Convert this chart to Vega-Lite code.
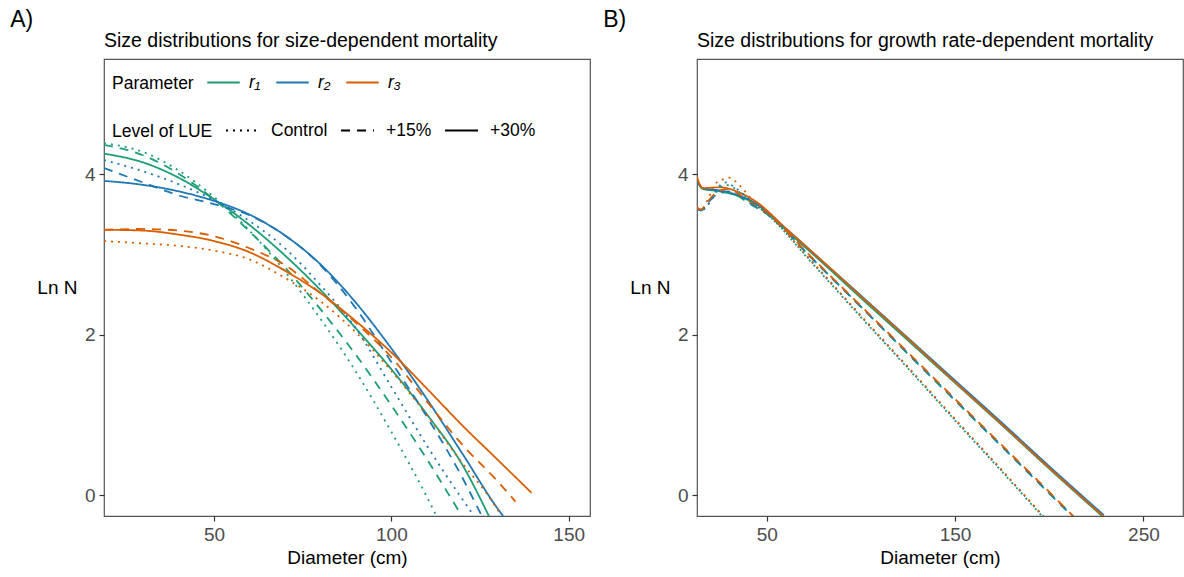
{
  "$schema": "https://vega.github.io/schema/vega-lite/v6.json",
  "background": "white",
  "padding": {"left": 10, "top": 8, "right": 1, "bottom": 4},
  "config": {
    "font": "Liberation Sans",
    "view": {"stroke": "#555555", "strokeWidth": 1.2},
    "axis": {"domain": false, "grid": false, "tickColor": "#333333", "tickSize": 5, "tickWidth": 1.2, "labelColor": "#4d4d4d", "labelFontSize": 19, "titleFontSize": 19, "titleFontWeight": "normal", "titleColor": "black", "labelPadding": 4, "titlePadding": 4},
    "legend": {"labelFontSize": 17.5, "titleFontSize": 17.5, "titleFontWeight": "normal", "titleColor": "black", "labelColor": "black"},
    "concat": {"spacing": 12}
  },
  "resolve": {"legend": {"color": "independent", "strokeDash": "independent"}},
  "datasets": {
    "A": [
      {"p": "r₁", "l": "+30%", "d": 19, "n": 4.26}, {"p": "r₁", "l": "+30%", "d": 30, "n": 4.15}, {"p": "r₁", "l": "+30%", "d": 40, "n": 3.96}, {"p": "r₁", "l": "+30%", "d": 50, "n": 3.69}, {"p": "r₁", "l": "+30%", "d": 60, "n": 3.37}, {"p": "r₁", "l": "+30%", "d": 70, "n": 2.99}, {"p": "r₁", "l": "+30%", "d": 80, "n": 2.56}, {"p": "r₁", "l": "+30%", "d": 90, "n": 2.08}, {"p": "r₁", "l": "+30%", "d": 100, "n": 1.57}, {"p": "r₁", "l": "+30%", "d": 110, "n": 1.01}, {"p": "r₁", "l": "+30%", "d": 120, "n": 0.38}, {"p": "r₁", "l": "+30%", "d": 127.5, "n": -0.26},
      {"p": "r₁", "l": "+15%", "d": 19, "n": 4.37}, {"p": "r₁", "l": "+15%", "d": 30, "n": 4.24}, {"p": "r₁", "l": "+15%", "d": 40, "n": 4.01}, {"p": "r₁", "l": "+15%", "d": 50, "n": 3.69}, {"p": "r₁", "l": "+15%", "d": 60, "n": 3.29}, {"p": "r₁", "l": "+15%", "d": 70, "n": 2.84}, {"p": "r₁", "l": "+15%", "d": 80, "n": 2.32}, {"p": "r₁", "l": "+15%", "d": 90, "n": 1.75}, {"p": "r₁", "l": "+15%", "d": 100, "n": 1.12}, {"p": "r₁", "l": "+15%", "d": 110, "n": 0.45}, {"p": "r₁", "l": "+15%", "d": 120, "n": -0.27},
      {"p": "r₁", "l": "Control", "d": 19, "n": 4.39}, {"p": "r₁", "l": "Control", "d": 30, "n": 4.28}, {"p": "r₁", "l": "Control", "d": 40, "n": 4.05}, {"p": "r₁", "l": "Control", "d": 50, "n": 3.72}, {"p": "r₁", "l": "Control", "d": 60, "n": 3.30}, {"p": "r₁", "l": "Control", "d": 70, "n": 2.79}, {"p": "r₁", "l": "Control", "d": 80, "n": 2.20}, {"p": "r₁", "l": "Control", "d": 90, "n": 1.54}, {"p": "r₁", "l": "Control", "d": 100, "n": 0.79}, {"p": "r₁", "l": "Control", "d": 110, "n": -0.02}, {"p": "r₁", "l": "Control", "d": 112.5, "n": -0.24},
      {"p": "r₂", "l": "+30%", "d": 19, "n": 3.92}, {"p": "r₂", "l": "+30%", "d": 30, "n": 3.87}, {"p": "r₂", "l": "+30%", "d": 40, "n": 3.79}, {"p": "r₂", "l": "+30%", "d": 50, "n": 3.67}, {"p": "r₂", "l": "+30%", "d": 60, "n": 3.50}, {"p": "r₂", "l": "+30%", "d": 70, "n": 3.24}, {"p": "r₂", "l": "+30%", "d": 80, "n": 2.88}, {"p": "r₂", "l": "+30%", "d": 90, "n": 2.40}, {"p": "r₂", "l": "+30%", "d": 100, "n": 1.83}, {"p": "r₂", "l": "+30%", "d": 110, "n": 1.20}, {"p": "r₂", "l": "+30%", "d": 120, "n": 0.52}, {"p": "r₂", "l": "+30%", "d": 130, "n": -0.17}, {"p": "r₂", "l": "+30%", "d": 131.5, "n": -0.26},
      {"p": "r₂", "l": "+15%", "d": 19, "n": 4.08}, {"p": "r₂", "l": "+15%", "d": 30, "n": 3.90}, {"p": "r₂", "l": "+15%", "d": 40, "n": 3.74}, {"p": "r₂", "l": "+15%", "d": 50, "n": 3.63}, {"p": "r₂", "l": "+15%", "d": 60, "n": 3.49}, {"p": "r₂", "l": "+15%", "d": 70, "n": 3.24}, {"p": "r₂", "l": "+15%", "d": 80, "n": 2.87}, {"p": "r₂", "l": "+15%", "d": 90, "n": 2.33}, {"p": "r₂", "l": "+15%", "d": 100, "n": 1.66}, {"p": "r₂", "l": "+15%", "d": 110, "n": 0.98}, {"p": "r₂", "l": "+15%", "d": 120, "n": 0.22}, {"p": "r₂", "l": "+15%", "d": 125.5, "n": -0.26},
      {"p": "r₂", "l": "Control", "d": 19, "n": 4.18}, {"p": "r₂", "l": "Control", "d": 30, "n": 4.04}, {"p": "r₂", "l": "Control", "d": 40, "n": 3.88}, {"p": "r₂", "l": "Control", "d": 50, "n": 3.68}, {"p": "r₂", "l": "Control", "d": 60, "n": 3.42}, {"p": "r₂", "l": "Control", "d": 70, "n": 3.08}, {"p": "r₂", "l": "Control", "d": 80, "n": 2.62}, {"p": "r₂", "l": "Control", "d": 90, "n": 2.08}, {"p": "r₂", "l": "Control", "d": 100, "n": 1.35}, {"p": "r₂", "l": "Control", "d": 110, "n": 0.62}, {"p": "r₂", "l": "Control", "d": 120, "n": -0.05}, {"p": "r₂", "l": "Control", "d": 123, "n": -0.24},
      {"p": "r₃", "l": "+30%", "d": 19, "n": 3.31}, {"p": "r₃", "l": "+30%", "d": 30, "n": 3.30}, {"p": "r₃", "l": "+30%", "d": 40, "n": 3.25}, {"p": "r₃", "l": "+30%", "d": 50, "n": 3.17}, {"p": "r₃", "l": "+30%", "d": 60, "n": 3.03}, {"p": "r₃", "l": "+30%", "d": 70, "n": 2.80}, {"p": "r₃", "l": "+30%", "d": 80, "n": 2.52}, {"p": "r₃", "l": "+30%", "d": 90, "n": 2.17}, {"p": "r₃", "l": "+30%", "d": 100, "n": 1.78}, {"p": "r₃", "l": "+30%", "d": 110, "n": 1.33}, {"p": "r₃", "l": "+30%", "d": 120, "n": 0.87}, {"p": "r₃", "l": "+30%", "d": 130, "n": 0.44}, {"p": "r₃", "l": "+30%", "d": 139.5, "n": 0.03},
      {"p": "r₃", "l": "+15%", "d": 19, "n": 3.31}, {"p": "r₃", "l": "+15%", "d": 30, "n": 3.32}, {"p": "r₃", "l": "+15%", "d": 40, "n": 3.30}, {"p": "r₃", "l": "+15%", "d": 50, "n": 3.23}, {"p": "r₃", "l": "+15%", "d": 60, "n": 3.08}, {"p": "r₃", "l": "+15%", "d": 70, "n": 2.87}, {"p": "r₃", "l": "+15%", "d": 80, "n": 2.52}, {"p": "r₃", "l": "+15%", "d": 90, "n": 2.15}, {"p": "r₃", "l": "+15%", "d": 100, "n": 1.72}, {"p": "r₃", "l": "+15%", "d": 110, "n": 1.17}, {"p": "r₃", "l": "+15%", "d": 120, "n": 0.63}, {"p": "r₃", "l": "+15%", "d": 130, "n": 0.17}, {"p": "r₃", "l": "+15%", "d": 135, "n": -0.08},
      {"p": "r₃", "l": "Control", "d": 19, "n": 3.17}, {"p": "r₃", "l": "Control", "d": 30, "n": 3.14}, {"p": "r₃", "l": "Control", "d": 40, "n": 3.11}, {"p": "r₃", "l": "Control", "d": 50, "n": 3.05}, {"p": "r₃", "l": "Control", "d": 60, "n": 2.94}, {"p": "r₃", "l": "Control", "d": 70, "n": 2.71}, {"p": "r₃", "l": "Control", "d": 80, "n": 2.42}, {"p": "r₃", "l": "Control", "d": 90, "n": 2.03}, {"p": "r₃", "l": "Control", "d": 100, "n": 1.55}, {"p": "r₃", "l": "Control", "d": 110, "n": 1.00}, {"p": "r₃", "l": "Control", "d": 120, "n": 0.40}, {"p": "r₃", "l": "Control", "d": 128, "n": -0.05}, {"p": "r₃", "l": "Control", "d": 130.5, "n": -0.22}
    ],
    "B": [
      {"p": "r₁", "l": "+30%", "d": 13, "n": 3.92}, {"p": "r₁", "l": "+30%", "d": 16, "n": 3.82}, {"p": "r₁", "l": "+30%", "d": 25, "n": 3.79}, {"p": "r₁", "l": "+30%", "d": 35, "n": 3.73}, {"p": "r₁", "l": "+30%", "d": 45, "n": 3.62}, {"p": "r₁", "l": "+30%", "d": 60, "n": 3.31}, {"p": "r₁", "l": "+30%", "d": 80, "n": 2.89}, {"p": "r₁", "l": "+30%", "d": 100, "n": 2.46}, {"p": "r₁", "l": "+30%", "d": 125, "n": 1.93}, {"p": "r₁", "l": "+30%", "d": 150, "n": 1.40}, {"p": "r₁", "l": "+30%", "d": 175, "n": 0.87}, {"p": "r₁", "l": "+30%", "d": 200, "n": 0.33}, {"p": "r₁", "l": "+30%", "d": 228.5, "n": -0.27},
      {"p": "r₂", "l": "+30%", "d": 13, "n": 3.93}, {"p": "r₂", "l": "+30%", "d": 16, "n": 3.83}, {"p": "r₂", "l": "+30%", "d": 25, "n": 3.80}, {"p": "r₂", "l": "+30%", "d": 35, "n": 3.74}, {"p": "r₂", "l": "+30%", "d": 45, "n": 3.63}, {"p": "r₂", "l": "+30%", "d": 60, "n": 3.33}, {"p": "r₂", "l": "+30%", "d": 80, "n": 2.91}, {"p": "r₂", "l": "+30%", "d": 100, "n": 2.49}, {"p": "r₂", "l": "+30%", "d": 125, "n": 1.96}, {"p": "r₂", "l": "+30%", "d": 150, "n": 1.43}, {"p": "r₂", "l": "+30%", "d": 175, "n": 0.90}, {"p": "r₂", "l": "+30%", "d": 200, "n": 0.36}, {"p": "r₂", "l": "+30%", "d": 229, "n": -0.25},
      {"p": "r₃", "l": "+30%", "d": 13, "n": 3.97}, {"p": "r₃", "l": "+30%", "d": 16, "n": 3.83}, {"p": "r₃", "l": "+30%", "d": 25, "n": 3.84}, {"p": "r₃", "l": "+30%", "d": 35, "n": 3.78}, {"p": "r₃", "l": "+30%", "d": 45, "n": 3.65}, {"p": "r₃", "l": "+30%", "d": 60, "n": 3.33}, {"p": "r₃", "l": "+30%", "d": 80, "n": 2.91}, {"p": "r₃", "l": "+30%", "d": 100, "n": 2.48}, {"p": "r₃", "l": "+30%", "d": 125, "n": 1.95}, {"p": "r₃", "l": "+30%", "d": 150, "n": 1.41}, {"p": "r₃", "l": "+30%", "d": 175, "n": 0.88}, {"p": "r₃", "l": "+30%", "d": 200, "n": 0.34}, {"p": "r₃", "l": "+30%", "d": 229, "n": -0.27},
      {"p": "r₁", "l": "+15%", "d": 13, "n": 3.58}, {"p": "r₁", "l": "+15%", "d": 15, "n": 3.56}, {"p": "r₁", "l": "+15%", "d": 20, "n": 3.68}, {"p": "r₁", "l": "+15%", "d": 25, "n": 3.77}, {"p": "r₁", "l": "+15%", "d": 30, "n": 3.78}, {"p": "r₁", "l": "+15%", "d": 35, "n": 3.73}, {"p": "r₁", "l": "+15%", "d": 40, "n": 3.65}, {"p": "r₁", "l": "+15%", "d": 50, "n": 3.51}, {"p": "r₁", "l": "+15%", "d": 75, "n": 2.93}, {"p": "r₁", "l": "+15%", "d": 100, "n": 2.35}, {"p": "r₁", "l": "+15%", "d": 125, "n": 1.76}, {"p": "r₁", "l": "+15%", "d": 150, "n": 1.18}, {"p": "r₁", "l": "+15%", "d": 175, "n": 0.60}, {"p": "r₁", "l": "+15%", "d": 200, "n": 0.02}, {"p": "r₁", "l": "+15%", "d": 212.5, "n": -0.27},
      {"p": "r₂", "l": "+15%", "d": 13, "n": 3.57}, {"p": "r₂", "l": "+15%", "d": 15, "n": 3.55}, {"p": "r₂", "l": "+15%", "d": 20, "n": 3.68}, {"p": "r₂", "l": "+15%", "d": 25, "n": 3.78}, {"p": "r₂", "l": "+15%", "d": 30, "n": 3.79}, {"p": "r₂", "l": "+15%", "d": 35, "n": 3.74}, {"p": "r₂", "l": "+15%", "d": 40, "n": 3.66}, {"p": "r₂", "l": "+15%", "d": 50, "n": 3.51}, {"p": "r₂", "l": "+15%", "d": 75, "n": 2.93}, {"p": "r₂", "l": "+15%", "d": 100, "n": 2.35}, {"p": "r₂", "l": "+15%", "d": 125, "n": 1.77}, {"p": "r₂", "l": "+15%", "d": 150, "n": 1.19}, {"p": "r₂", "l": "+15%", "d": 175, "n": 0.61}, {"p": "r₂", "l": "+15%", "d": 200, "n": 0.03}, {"p": "r₂", "l": "+15%", "d": 213, "n": -0.27},
      {"p": "r₃", "l": "+15%", "d": 13, "n": 3.59}, {"p": "r₃", "l": "+15%", "d": 15, "n": 3.56}, {"p": "r₃", "l": "+15%", "d": 20, "n": 3.70}, {"p": "r₃", "l": "+15%", "d": 25, "n": 3.80}, {"p": "r₃", "l": "+15%", "d": 30, "n": 3.82}, {"p": "r₃", "l": "+15%", "d": 35, "n": 3.76}, {"p": "r₃", "l": "+15%", "d": 40, "n": 3.68}, {"p": "r₃", "l": "+15%", "d": 50, "n": 3.52}, {"p": "r₃", "l": "+15%", "d": 75, "n": 2.94}, {"p": "r₃", "l": "+15%", "d": 100, "n": 2.36}, {"p": "r₃", "l": "+15%", "d": 125, "n": 1.78}, {"p": "r₃", "l": "+15%", "d": 150, "n": 1.20}, {"p": "r₃", "l": "+15%", "d": 175, "n": 0.62}, {"p": "r₃", "l": "+15%", "d": 200, "n": 0.04}, {"p": "r₃", "l": "+15%", "d": 213, "n": -0.27},
      {"p": "r₁", "l": "Control", "d": 13, "n": 3.57}, {"p": "r₁", "l": "Control", "d": 15, "n": 3.55}, {"p": "r₁", "l": "Control", "d": 20, "n": 3.66}, {"p": "r₁", "l": "Control", "d": 24, "n": 3.80}, {"p": "r₁", "l": "Control", "d": 28, "n": 3.87}, {"p": "r₁", "l": "Control", "d": 32, "n": 3.84}, {"p": "r₁", "l": "Control", "d": 36, "n": 3.77}, {"p": "r₁", "l": "Control", "d": 40, "n": 3.69}, {"p": "r₁", "l": "Control", "d": 50, "n": 3.51}, {"p": "r₁", "l": "Control", "d": 75, "n": 2.87}, {"p": "r₁", "l": "Control", "d": 100, "n": 2.22}, {"p": "r₁", "l": "Control", "d": 125, "n": 1.58}, {"p": "r₁", "l": "Control", "d": 150, "n": 0.93}, {"p": "r₁", "l": "Control", "d": 175, "n": 0.29}, {"p": "r₁", "l": "Control", "d": 196.5, "n": -0.27},
      {"p": "r₂", "l": "Control", "d": 13, "n": 3.57}, {"p": "r₂", "l": "Control", "d": 15, "n": 3.55}, {"p": "r₂", "l": "Control", "d": 20, "n": 3.66}, {"p": "r₂", "l": "Control", "d": 24.3, "n": 3.84}, {"p": "r₂", "l": "Control", "d": 28.4, "n": 3.90}, {"p": "r₂", "l": "Control", "d": 32.3, "n": 3.85}, {"p": "r₂", "l": "Control", "d": 35.8, "n": 3.79}, {"p": "r₂", "l": "Control", "d": 40, "n": 3.70}, {"p": "r₂", "l": "Control", "d": 50, "n": 3.51}, {"p": "r₂", "l": "Control", "d": 75, "n": 2.88}, {"p": "r₂", "l": "Control", "d": 100, "n": 2.23}, {"p": "r₂", "l": "Control", "d": 125, "n": 1.59}, {"p": "r₂", "l": "Control", "d": 150, "n": 0.94}, {"p": "r₂", "l": "Control", "d": 175, "n": 0.30}, {"p": "r₂", "l": "Control", "d": 197, "n": -0.27},
      {"p": "r₃", "l": "Control", "d": 13, "n": 3.58}, {"p": "r₃", "l": "Control", "d": 15, "n": 3.56}, {"p": "r₃", "l": "Control", "d": 19, "n": 3.70}, {"p": "r₃", "l": "Control", "d": 22.5, "n": 3.88}, {"p": "r₃", "l": "Control", "d": 26.1, "n": 3.93}, {"p": "r₃", "l": "Control", "d": 30.1, "n": 3.96}, {"p": "r₃", "l": "Control", "d": 34.1, "n": 3.90}, {"p": "r₃", "l": "Control", "d": 36.7, "n": 3.84}, {"p": "r₃", "l": "Control", "d": 40.2, "n": 3.74}, {"p": "r₃", "l": "Control", "d": 50, "n": 3.53}, {"p": "r₃", "l": "Control", "d": 75, "n": 2.89}, {"p": "r₃", "l": "Control", "d": 100, "n": 2.24}, {"p": "r₃", "l": "Control", "d": 125, "n": 1.60}, {"p": "r₃", "l": "Control", "d": 150, "n": 0.95}, {"p": "r₃", "l": "Control", "d": 175, "n": 0.31}, {"p": "r₃", "l": "Control", "d": 197, "n": -0.27}
    ]
  },
  "hconcat": [
    {
      "title": {"text": "A)", "anchor": "start", "frame": "bounds", "fontSize": 23, "fontWeight": "normal", "baseline": "alphabetic", "dx": -26, "offset": -20, "color": "black"},
      "vconcat": [
        {
          "data": {"name": "A"},
          "title": {"text": "Size distributions for size-dependent mortality", "anchor": "start", "frame": "group", "fontSize": 19.5, "fontWeight": "normal", "baseline": "alphabetic", "offset": -7, "color": "black"},
          "width": 486,
          "height": 457,
          "mark": {"type": "line", "strokeWidth": 1.8, "clip": true, "interpolate": "monotone"},
          "encoding": {
            "x": {"field": "d", "type": "quantitative", "scale": {"domain": [19, 156], "nice": false, "zero": false}, "axis": {"values": [50, 100, 150], "title": "Diameter (cm)"}},
            "y": {"field": "n", "type": "quantitative", "scale": {"domain": [-0.26, 5.44], "nice": false, "zero": false}, "axis": {"values": [0, 2, 4], "title": "Ln N", "titleAngle": 0, "titleAlign": "right", "titleBaseline": "middle", "titleX": -27, "titleY": 228}},
            "color": {"field": "p", "type": "nominal", "scale": {"domain": ["r₁", "r₂", "r₃"], "range": ["#1b9e77", "#1f78b4", "#d95f02"]}, "legend": {"title": "Parameter", "orient": "none", "legendX": 8, "legendY": 6, "direction": "horizontal", "titleOrient": "left", "titleBaseline": "line-top", "titleLineHeight": 12, "symbolType": "stroke", "symbolSize": 1056, "symbolStrokeWidth": 2, "labelFontStyle": "italic", "labelOffset": 8, "columnPadding": 11, "titlePadding": 12}},
            "strokeDash": {"field": "l", "type": "nominal", "scale": {"domain": ["Control", "+15%", "+30%"], "range": [[2, 5], [9, 7], [1, 0]]}, "legend": {"title": "Level of LUE", "orient": "none", "legendX": 8, "legendY": 54, "direction": "horizontal", "titleOrient": "left", "titleBaseline": "line-top", "titleLineHeight": 12, "symbolType": "stroke", "symbolSize": 1089, "symbolStrokeWidth": 2, "symbolStrokeColor": "black", "labelOffset": 11, "columnPadding": 9, "titlePadding": 12}}
          }
        }
      ]
    },
    {
      "title": {"text": "B)", "anchor": "start", "frame": "bounds", "fontSize": 23, "fontWeight": "normal", "baseline": "alphabetic", "dx": -26, "offset": -20, "color": "black"},
      "vconcat": [
        {
          "data": {"name": "B"},
          "title": {"text": "Size distributions for growth rate-dependent mortality", "anchor": "start", "frame": "group", "fontSize": 19.5, "fontWeight": "normal", "baseline": "alphabetic", "offset": -7, "color": "black"},
          "width": 486,
          "height": 457,
          "mark": {"type": "line", "strokeWidth": 1.8, "clip": true, "interpolate": "monotone"},
          "encoding": {
            "x": {"field": "d", "type": "quantitative", "scale": {"domain": [13, 271], "nice": false, "zero": false}, "axis": {"values": [50, 150, 250], "title": "Diameter (cm)"}},
            "y": {"field": "n", "type": "quantitative", "scale": {"domain": [-0.26, 5.44], "nice": false, "zero": false}, "axis": {"values": [0, 2, 4], "title": "Ln N", "titleAngle": 0, "titleAlign": "right", "titleBaseline": "middle", "titleX": -27, "titleY": 228}},
            "color": {"field": "p", "type": "nominal", "scale": {"domain": ["r₁", "r₂", "r₃"], "range": ["#1b9e77", "#1f78b4", "#d95f02"]}, "legend": null},
            "strokeDash": {"field": "l", "type": "nominal", "scale": {"domain": ["Control", "+15%", "+30%"], "range": [[2, 5], [9, 7], [1, 0]]}, "legend": null}
          }
        }
      ]
    }
  ]
}
